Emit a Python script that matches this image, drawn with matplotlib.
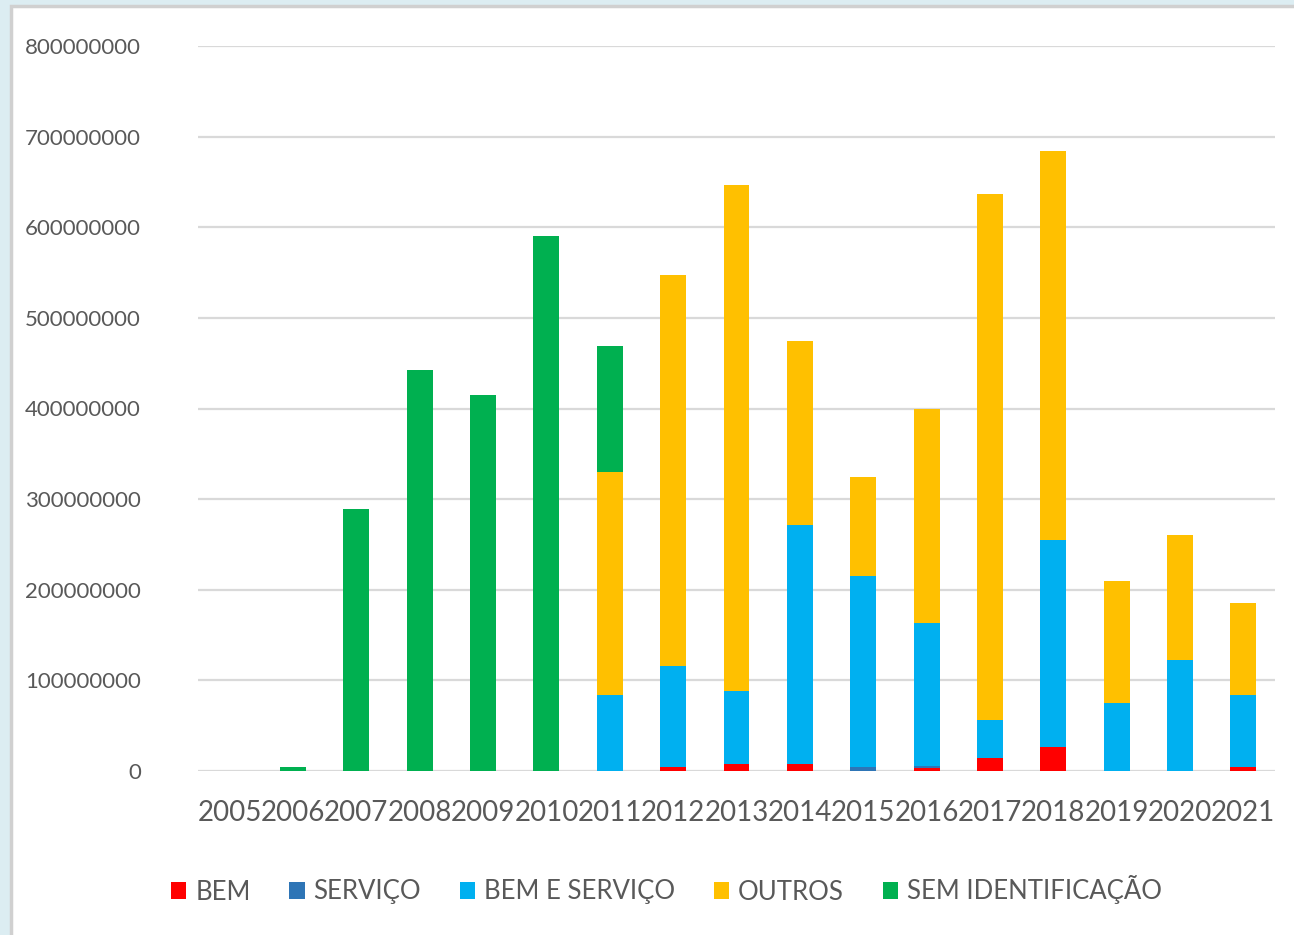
import numpy as np
import matplotlib.pyplot as plt
from matplotlib.patches import Rectangle, Patch

plt.rcParams['font.family'] = ['Lato', 'DejaVu Sans']

years = [str(y) for y in range(2005, 2022)]
bem = [0, 0, 0, 0, 0, 0, 0, 4.5e6, 8e6, 8e6, 0, 3.5e6, 14e6, 26.5e6, 0, 0, 4e6]
servico = [0, 0, 0, 0, 0, 0, 0, 0, 0, 0, 4e6, 2e6, 0, 0, 0, 0, 0]
bem_servico = [0, 0, 0, 0, 0, 0, 84e6, 111.5e6, 80e6, 263.5e6, 211e6, 158e6, 42e6, 228.5e6, 75e6, 122e6, 80e6]
outros = [0, 0, 0, 0, 0, 0, 246e6, 431e6, 558.6e6, 203e6, 109e6, 236e6, 580.7e6, 429e6, 134.7e6, 138e6, 101.4e6]
sem_id = [0, 4e6, 289e6, 442.5e6, 415e6, 590e6, 139e6, 0, 0, 0, 0, 0, 0, 0, 0, 0, 0]

series = [
    ('BEM', bem, '#FF0000'),
    ('SERVIÇO', servico, '#2E75B6'),
    ('BEM E SERVIÇO', bem_servico, '#00B0F0'),
    ('OUTROS', outros, '#FFC000'),
    ('SEM IDENTIFICAÇÃO', sem_id, '#00B050'),
]

text_col = '#595959'
fig = plt.figure(figsize=(12.94, 9.35), dpi=100, facecolor='#dcedf2')
# white chart panel with grey edge
fig.patches.append(Rectangle((11 / 1294, -0.01), 1.1, 1.01 - 6 / 935, transform=fig.transFigure,
                             facecolor='white', edgecolor='#d0d0d0', linewidth=2.5, zorder=-10))

ax = fig.add_axes([198 / 1294, 1 - 771 / 935, (1275 - 198) / 1294, (771 - 46) / 935])
ax.set_facecolor('none')
ax.set_zorder(5)

x = np.arange(len(years))
bottom = np.zeros(len(years))
for name, vals, col in series:
    vals = np.array(vals)
    ax.bar(x, vals, width=0.41, bottom=bottom, color=col, label=name, zorder=3)
    bottom += vals

ax.set_xlim(-0.5, len(years) - 0.5)
ax.set_ylim(0, 800e6)
ax.set_yticks(np.arange(0, 800e6 + 1, 100e6))
ax.set_yticklabels([str(int(v)) for v in np.arange(0, 800e6 + 1, 100e6)])
ax.set_xticks(x)
ax.set_xticklabels(years)
ax.yaxis.grid(True, color='#d9d9d9', linewidth=1.6, zorder=0)
for s in ax.spines.values():
    s.set_visible(False)
ax.axhline(0, color='#d9d9d9', linewidth=1.8, zorder=2)
ax.tick_params(axis='y', length=0, pad=41, labelsize=16, labelcolor=text_col)
ax.tick_params(axis='x', length=0, pad=21, labelsize=20, labelcolor=text_col)

handles = [Patch(facecolor=c, edgecolor='none') for _, _, c in series]
leg = fig.legend(handles, [n for n, _, _ in series], loc='center', bbox_to_anchor=(0.515, 1 - 890 / 935),
                 ncol=5, frameon=False, fontsize=18.5, handlelength=0.6, handleheight=0.6,
                 handletextpad=0.35, columnspacing=1.5)
leg.set_zorder(6)
for t in leg.get_texts():
    t.set_color(text_col)

fig.savefig('out.png', dpi=100, facecolor=fig.get_facecolor())
